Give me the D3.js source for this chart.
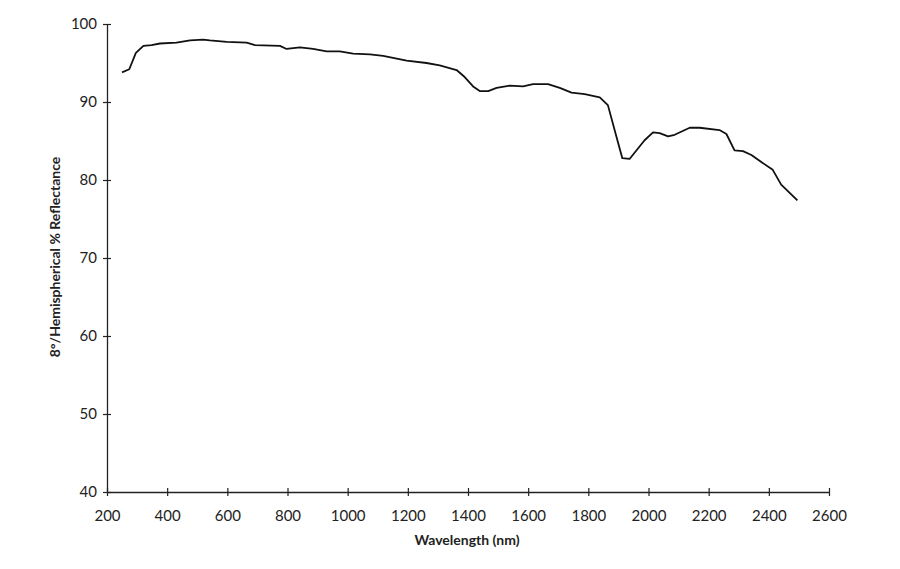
<!DOCTYPE html>
<html><head><meta charset="utf-8">
<script src="https://cdn.jsdelivr.net/npm/d3@7"></script>
<style>body{margin:0;background:#fff}svg{display:block}</style>
</head><body>
<svg id="c" width="900" height="569"></svg>
<script>
const wavelength = [250,274,296,321,348,376,431,476,520,542,570,598,664,692,775,797,841,885,930,974,1018,1074,1118,1196,1262,1306,1362,1389,1417,1439,1467,1495,1539,1583,1616,1666,1705,1744,1788,1838,1865,1893,1913,1937,1987,2015,2037,2065,2087,2137,2170,2236,2259,2286,2314,2342,2375,2413,2441,2495];
const reflectance = [93.8,94.2,96.3,97.2,97.3,97.5,97.6,97.9,98.0,97.9,97.8,97.7,97.6,97.3,97.2,96.8,97.0,96.8,96.5,96.5,96.2,96.1,95.9,95.3,95.0,94.7,94.1,93.2,92.0,91.4,91.4,91.8,92.1,92.0,92.3,92.3,91.8,91.2,91.0,90.6,89.6,85.6,82.8,82.7,85.1,86.1,86.0,85.6,85.8,86.7,86.7,86.4,85.9,83.8,83.7,83.2,82.3,81.3,79.4,77.4];
const xTicks = [200,400,600,800,1000,1200,1400,1600,1800,2000,2200,2400,2600];
const yTicks = [40,50,60,70,80,90,100];

const svg = d3.select("#c");
const x = d3.scaleLinear().domain([200,2600]).range([107,829]);
const y = d3.scaleLinear().domain([40,100]).range([492,24]);
const font = "'Lato','Open Sans',sans-serif";

const xa = svg.append("g").attr("transform","translate(0,492)")
  .call(d3.axisBottom(x).tickValues(xTicks).tickFormat(d3.format("d")).tickSize(4).tickSizeOuter(0).tickPadding(14));
xa.selectAll(".tick line").attr("y1",-4);
const ya = svg.append("g").attr("transform","translate(107,0)")
  .call(d3.axisLeft(y).tickValues(yTicks).tickFormat(d3.format("d")).tickSize(4).tickSizeOuter(0).tickPadding(6));
ya.selectAll(".tick line").attr("x1",4);
[xa,ya].forEach(a=>{
  a.select(".domain").attr("stroke","#222").attr("stroke-width",1.3);
  a.selectAll(".tick line").attr("stroke","#222").attr("stroke-width",1.2);
  a.selectAll("text").attr("font-family",font).attr("font-size",15).attr("fill","#222");
});

svg.append("path").datum(wavelength.map((w,i)=>[w,reflectance[i]]))
  .attr("fill","none").attr("stroke","#111").attr("stroke-width",1.8)
  .attr("stroke-linejoin","round")
  .attr("d",d3.line().x(d=>x(d[0])).y(d=>y(d[1])));

svg.append("text").attr("x",467).attr("y",545).attr("text-anchor","middle")
  .attr("font-family",font).attr("font-weight","bold").attr("font-size",14).attr("fill","#222")
  .text("Wavelength (nm)");
svg.append("text").attr("transform","translate(60,257) rotate(-90)").attr("text-anchor","middle")
  .attr("font-family",font).attr("font-weight","bold").attr("font-size",14).attr("fill","#222")
  .text("8°/Hemispherical % Reflectance");
</script>
</body></html>
